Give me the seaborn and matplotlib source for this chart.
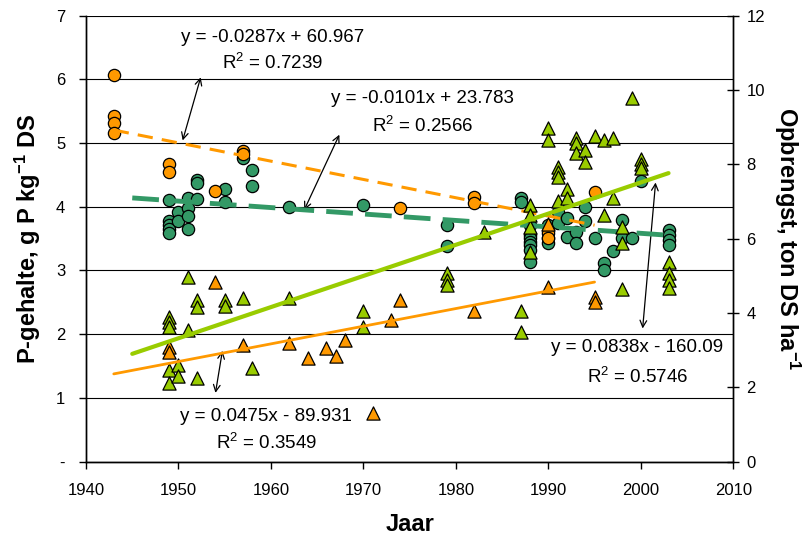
import numpy as np
import pandas as pd
import matplotlib
matplotlib.use("Agg")
import matplotlib.pyplot as plt
import seaborn as sns
from matplotlib.ticker import FuncFormatter

# P-gehalte (left axis), two series of circles
oc_years = [1943, 1943, 1943, 1943, 1949, 1949, 1954, 1957, 1957, 1974, 1982, 1982, 1990, 1990, 1995]
oc_p = [6.07, 5.43, 5.32, 5.16, 4.67, 4.54, 4.24, 4.87, 4.83, 3.98, 4.15, 4.06, 3.59, 3.51, 4.23]

gc_years = [1949, 1949, 1949, 1949, 1949, 1950, 1950, 1951, 1951, 1951, 1951, 1952, 1952, 1952,
            1955, 1955, 1957, 1958, 1958, 1962, 1970, 1979, 1979, 1987, 1987,
            1988, 1988, 1988, 1988, 1988, 1988, 1988, 1990, 1990, 1990, 1991, 1991, 1992, 1992,
            1993, 1993, 1994, 1994, 1995, 1996, 1996, 1997, 1998, 1998, 1999, 2000,
            2003, 2003, 2003, 2003]
gc_p = [4.11, 3.77, 3.72, 3.65, 3.59, 3.92, 3.77, 4.13, 3.98, 3.85, 3.65, 4.42, 4.38, 4.12,
        4.28, 4.07, 4.76, 4.58, 4.33, 4.00, 4.02, 3.72, 3.38, 4.14, 4.08,
        3.71, 3.56, 3.51, 3.45, 3.40, 3.32, 3.14, 3.72, 3.51, 3.43, 3.92, 3.74, 3.82, 3.52,
        3.61, 3.43, 4.00, 3.77, 3.51, 3.11, 3.01, 3.30, 3.79, 3.51, 3.51, 4.41,
        3.64, 3.56, 3.48, 3.40]

# Opbrengst (right axis), two series of triangles
ot_years = [1949, 1949, 1954, 1957, 1962, 1964, 1966, 1967, 1968, 1971, 1973, 1974, 1982,
            1990, 1990, 1995, 1995]
ot_yield = [3.09, 2.96, 4.84, 3.14, 3.19, 2.78, 3.05, 2.85, 3.26, 1.32, 3.80, 4.35, 4.06,
            6.40, 4.71, 4.44, 4.30]

gt_years = [1949, 1949, 1949, 1949, 1949, 1950, 1950, 1951, 1951, 1952, 1952, 1952, 1955, 1955,
            1957, 1958, 1962, 1970, 1970, 1979, 1979, 1979, 1983, 1987, 1987,
            1988, 1988, 1988, 1988, 1990, 1990, 1991, 1991, 1991, 1991, 1992, 1992,
            1993, 1993, 1993, 1994, 1994, 1995, 1996, 1996, 1997, 1997, 1998, 1998, 1998,
            1999, 2000, 2000, 2000, 2003, 2003, 2003, 2003]
gt_yield = [3.89, 3.77, 3.63, 2.47, 2.11, 2.60, 2.30, 4.98, 3.55, 4.35, 4.15, 2.25, 4.35, 4.20,
            4.40, 2.52, 4.40, 4.04, 3.63, 5.07, 4.89, 4.76, 6.18, 4.04, 3.50,
            6.91, 6.64, 6.32, 5.63, 8.97, 8.66, 7.92, 7.78, 7.65, 7.00, 7.34, 7.08,
            8.70, 8.57, 8.30, 8.39, 8.05, 8.75, 8.66, 6.63, 8.70, 7.08, 6.30, 5.88, 4.65,
            9.78, 8.14, 8.00, 7.90, 5.38, 5.07, 4.89, 4.67]

# trend lines as given in the chart: slope, intercept, start year, end year
trend_oc = (-0.0287, 60.967, 1943, 1995)
trend_gc = (-0.0101, 23.783, 1945, 2003)
trend_ot = (0.0475, -89.931, 1943, 1995)
trend_gt = (0.0838, -160.09, 1945, 2003)

orange = "#FF9900"
seagreen = "#339966"
lime = "#99CC00"

sns.set_theme(style="white")
plt.rcParams["font.family"] = ["Liberation Sans", "DejaVu Sans"]
plt.rcParams["mathtext.fontset"] = "custom"
plt.rcParams["mathtext.rm"] = "Liberation Sans"
plt.rcParams["mathtext.it"] = "Liberation Sans:italic"
plt.rcParams["mathtext.bf"] = "Liberation Sans:bold"
for key in ("text.color", "axes.labelcolor", "xtick.color", "ytick.color"):
    plt.rcParams[key] = "black"

fig, ax = plt.subplots(figsize=(8.04, 5.35), dpi=100)
fig.subplots_adjust(left=0.107, right=0.912, top=0.971, bottom=0.137)
ax2 = ax.twinx()


def trend_line(axis, trend, color, lw, dashes=None):
    a, b, x0, x1 = trend
    xs = np.array([x0, x1])
    line, = axis.plot(xs, a * xs + b, color=color, lw=lw, zorder=4)
    if dashes:
        line.set_dashes(dashes)


df_oc = pd.DataFrame({"jaar": oc_years, "p": oc_p})
df_gc = pd.DataFrame({"jaar": gc_years, "p": gc_p})
df_ot = pd.DataFrame({"jaar": ot_years, "opbrengst": ot_yield})
df_gt = pd.DataFrame({"jaar": gt_years, "opbrengst": gt_yield})

sns.scatterplot(data=df_gc, x="jaar", y="p", ax=ax, marker="o", s=78, color=seagreen,
                edgecolor="black", linewidth=0.9, zorder=3)
sns.scatterplot(data=df_oc, x="jaar", y="p", ax=ax, marker="o", s=78, color=orange,
                edgecolor="black", linewidth=0.9, zorder=3)
trend_line(ax, trend_oc, orange, 2.2, dashes=(5, 3))
trend_line(ax, trend_gc, seagreen, 3.5, dashes=(5.5, 2.5))

sns.scatterplot(data=df_ot, x="jaar", y="opbrengst", ax=ax2, marker="^", s=90, color=orange,
                edgecolor="black", linewidth=0.9, zorder=3)
sns.scatterplot(data=df_gt, x="jaar", y="opbrengst", ax=ax2, marker="^", s=90, color=lime,
                edgecolor="black", linewidth=0.9, zorder=3)
trend_line(ax2, trend_ot, orange, 2)
trend_line(ax2, trend_gt, lime, 3)

ax.set_xlim(1940, 2010)
ax.set_ylim(0, 7)
ax2.set_ylim(0, 12)
ax.set_xticks(range(1940, 2011, 10))
ax.set_yticks(range(0, 8))
ax2.set_yticks(range(0, 13, 2))
ax.yaxis.set_major_formatter(FuncFormatter(lambda v, p: "-" if v == 0 else f"{v:.0f}"))

ax.yaxis.grid(True, color="black", lw=0.8)
ax.xaxis.grid(False)
ax2.grid(False)
ax.set_axisbelow(True)

for a in (ax, ax2):
    for side in ("left", "bottom", "right"):
        a.spines[side].set_visible(True)
        a.spines[side].set_color("black")
        a.spines[side].set_linewidth(1)
    a.spines["top"].set_visible(False)

ax.tick_params(axis="y", which="major", direction="out", length=5, width=1, color="black",
               labelsize=12, pad=10, left=True)
ax.tick_params(axis="x", which="major", direction="out", length=5, width=1, color="black",
               labelsize=12, pad=10, bottom=True)
ax2.tick_params(axis="y", which="major", direction="inout", length=9, width=1, color="black",
                labelsize=12, pad=5, right=True)

ax.set_xlabel("Jaar", fontsize=17, fontweight="bold", labelpad=11)
ax.set_ylabel(r"P-gehalte, g P kg$^{\mathbf{-1}}$ DS", fontsize=17, fontweight="bold", labelpad=9)
ax2.set_ylabel(r"Opbrengst, ton DS ha$^{\mathbf{-1}}$", fontsize=17, fontweight="bold",
               rotation=270, labelpad=27)

# trendline equations with arrows
txt = dict(ha="center", va="center", fontsize=13.5, zorder=6)
ax.text(1960.2, 6.65, "y = -0.0287x + 60.967", **txt)
ax.text(1960.2, 6.25, "R$^2$ = 0.7239", **txt)
ax.text(1976.4, 5.70, "y = -0.0101x + 23.783", **txt)
ax.text(1976.4, 5.26, "R$^2$ = 0.2566", **txt)
ax.text(1999.6, 1.79, "y = 0.0838x - 160.09", **txt)
ax.text(1999.6, 1.33, "R$^2$ = 0.5746", **txt)
ax.text(1959.5, 0.71, "y = 0.0475x - 89.931", **txt)
ax.text(1959.5, 0.29, "R$^2$ = 0.3549", **txt)

arrow = dict(arrowstyle="<->", color="black", lw=0.9, shrinkA=0, shrinkB=0)
ax.annotate("", xy=(1952.4, 6.03), xytext=(1950.45, 5.04), arrowprops=arrow)
ax.annotate("", xy=(1967.4, 5.13), xytext=(1963.6, 3.95), arrowprops=arrow)
ax.annotate("", xy=(2001.6, 4.38), xytext=(2000.2, 2.09), arrowprops=arrow)
ax.annotate("", xy=(1954.75, 1.74), xytext=(1954.0, 1.08), arrowprops=arrow)

plt.savefig("out.png", dpi=100)
